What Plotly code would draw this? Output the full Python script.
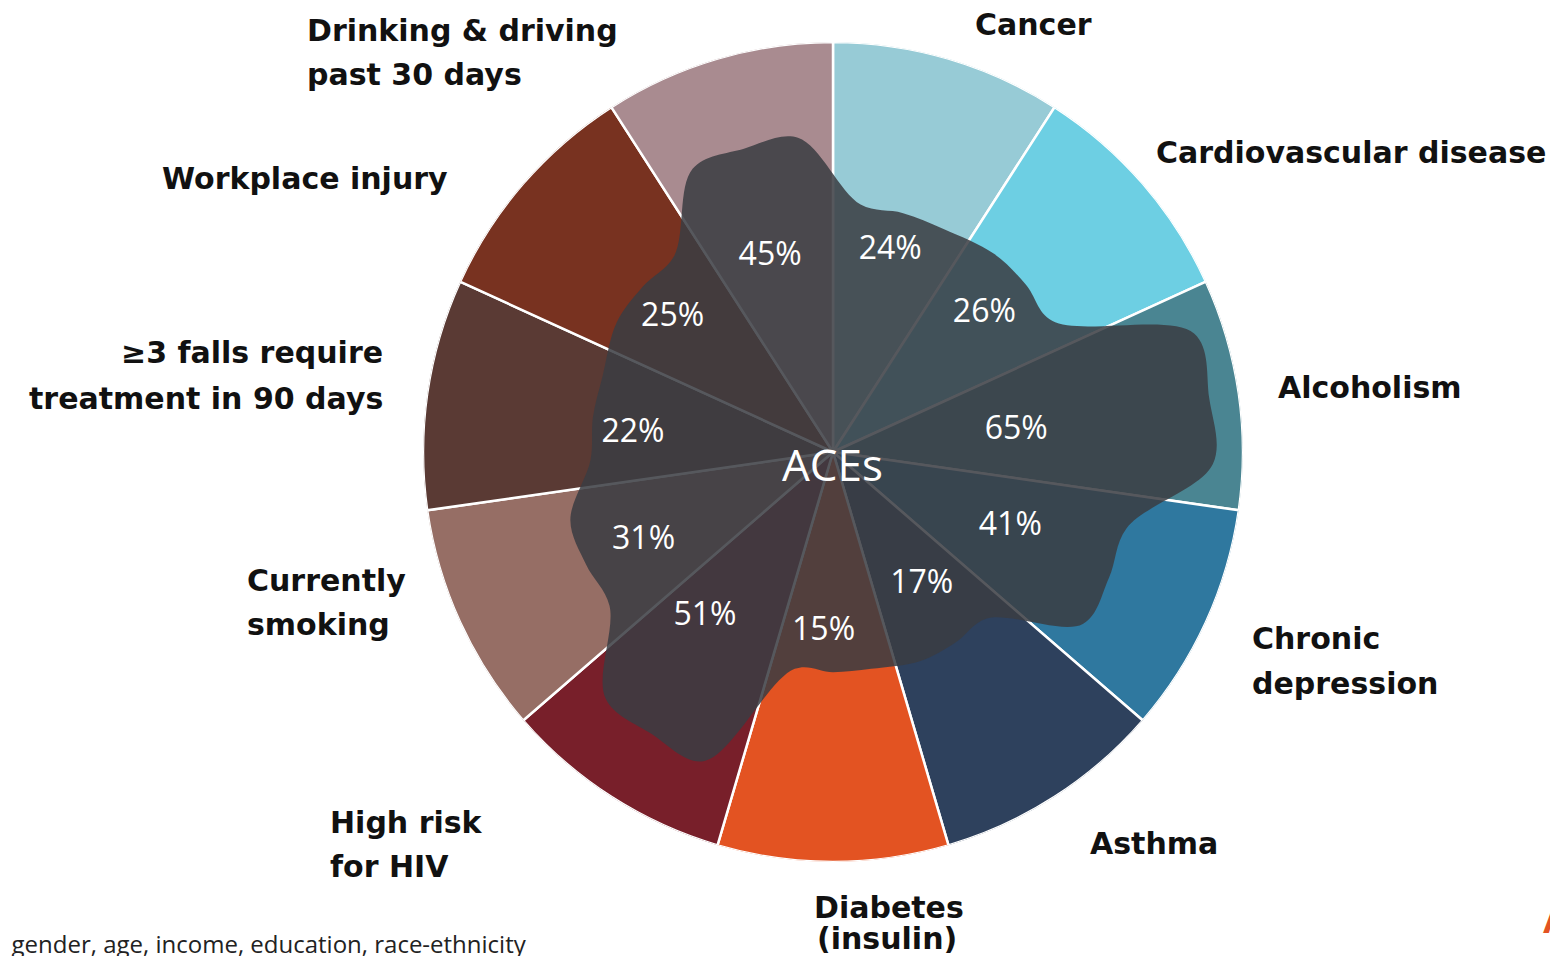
import plotly.graph_objects as go

# ---------------- data ----------------
categories = ["Cancer", "Cardiovascular disease", "Alcoholism", "Chronic depression",
              "Asthma", "Diabetes (insulin)", "High risk for HIV", "Currently smoking",
              "≥3 falls require treatment in 90 days", "Workplace injury",
              "Drinking & driving past 30 days"]
percent_values = [24, 26, 65, 41, 17, 15, 51, 31, 22, 25, 45]
slice_colors = ["#97CBD6", "#6DCFE3", "#4A8592", "#2F789F", "#2E415D", "#E35322",
                "#781F2A", "#966E65", "#5A3A34", "#783220", "#A98B90"]
center_label = "ACEs"
footnote = ": gender, age, income, education, race-ethnicity"

# ---------------- layout helpers ----------------
OFF = 8                               # page body margin
W, H = 1558 - OFF, 956 - OFF          # figure size that fits the window
CX, CY, R = 833 - OFF, 452 - OFF, 410  # pie centre / radius in pixels (figure space)
N = len(categories)
STEP = 360 / N
mids = [STEP * (i + 0.5) for i in range(N)]

BLOB_BASE, BLOB_SCALE = 42, 0.78     # visual mapping value -> blob radius (axis units of 100)
pct_r = [51, 50, 45, 47, 39, 44, 51, 51, 49, 51, 50]
pct_dtheta = [-0.5, -1.5, 1.5, -1.5, -1, 3, 5, -0.5, -3, -1, -1.5]


def px(x, y):
    """screen pixel -> paper coordinates"""
    return (x - OFF) / W, 1 - (y - OFF) / H


fig = go.Figure()

# pie slices as polar bars
fig.add_trace(go.Barpolar(
    r=[100] * N, theta=mids, width=[STEP] * N,
    marker=dict(color=slice_colors, line=dict(color="white", width=2.5)),
    hoverinfo="skip", showlegend=False))

# blob outline: plateau per slice through the library's polar scale
blob_theta, blob_r = [], []
for i, v in enumerate(percent_values):
    rv = BLOB_BASE + BLOB_SCALE * v
    for d in (-10, 0, 10):
        blob_theta.append(mids[i] + d)
        blob_r.append(rv)
blob_theta.append(blob_theta[0] + 360)
blob_r.append(blob_r[0])
fig.add_trace(go.Scatterpolar(
    r=blob_r, theta=blob_theta, mode="lines", fill="toself",
    line=dict(shape="spline", smoothing=1.0, color="rgba(0,0,0,0)", width=0),
    fillcolor="rgba(58,60,66,0.86)", hoverinfo="skip", showlegend=False))

PCT_FONT = "Open Sans"

# percentage labels
fig.add_trace(go.Scatterpolar(
    r=pct_r, theta=[m + d for m, d in zip(mids, pct_dtheta)],
    mode="text", text=[f"{v}%" for v in percent_values],
    textfont=dict(family=PCT_FONT, size=32, color="white"),
    hoverinfo="skip", showlegend=False))

# leader lines (polar, just outside the pie)
leader = [(14.5, 16.6), (44.7, 46.5), (81.1, 80.1), (115.8, 116.2), (147.7, 145.7),
          (181.0, 180.4), (213.8, 216.6), (249.4, 250.3), (280.3, 280.2), (306.6, 304.6),
          (335.4, 335.0)]
for t1, t2 in leader:
    fig.add_trace(go.Scatterpolar(
        r=[102, 109], theta=[t1, t2], mode="lines",
        line=dict(color="#4F7F90", width=1.6), hoverinfo="skip", showlegend=False))

fig.update_layout(
    width=W, height=H, margin=dict(l=0, r=0, t=0, b=0),
    paper_bgcolor="white", plot_bgcolor="white",
    polar=dict(
        domain=dict(x=[(CX - R) / W, (CX + R) / W], y=[1 - (CY + R) / H, 1 - (CY - R) / H]),
        bgcolor="rgba(0,0,0,0)", hole=0, bargap=0,
        radialaxis=dict(range=[0, 100], visible=False, showgrid=False),
        angularaxis=dict(rotation=90, direction="clockwise", showgrid=False,
                         showline=False, showticklabels=False, ticks="")),
)

LBL = dict(family="DejaVu Sans", size=30, color="#111111", weight="bold")
label_lines = [
    ("Cancer", 973, 25, "left"),
    ("Cardiovascular disease", 1154, 152, "left"),
    ("Alcoholism", 1276, 387, "left"),
    ("Chronic", 1250, 638, "left"),
    ("depression", 1250, 683, "left"),
    ("Asthma", 1088, 843, "left"),
    ("Diabetes", 889, 907, "center"),
    ("(insulin)", 887, 938, "center"),
    ("High risk", 328, 822, "left"),
    ("for HIV", 328, 866, "left"),
    ("Currently", 245, 580, "left"),
    ("smoking", 245, 624, "left"),
    ("≥3 falls require", 385, 353, "right"),
    ("treatment in 90 days", 385, 398, "right"),
    ("Workplace injury", 450, 179, "right"),
    ("Drinking & driving", 305, 30, "left"),
    ("past 30 days", 305, 75, "left"),
]
for txt, x, y, xa in label_lines:
    ax, ay = px(x, y)
    fig.add_annotation(text=txt, x=ax, y=ay, xref="paper", yref="paper",
                       xanchor=xa, yanchor="middle", showarrow=False, font=LBL)

# centre label
cx_, cy_ = px(832, 464)
fig.add_annotation(text=center_label, x=cx_, y=cy_, xref="paper", yref="paper",
                   showarrow=False, font=dict(family=PCT_FONT, size=44, color="white"))
# footnote
fx, fy = px(-3, 943)
fig.add_annotation(text=footnote, x=fx, y=fy, xref="paper", yref="paper",
                   xanchor="left", yanchor="middle", showarrow=False,
                   font=dict(family="Open Sans", size=24, color="#222222"))
# cut-off logo letter
lx, ly = px(1541, 922)
fig.add_annotation(text="A", x=lx, y=ly, xref="paper", yref="paper",
                   xanchor="left", yanchor="middle", showarrow=False,
                   font=dict(family="DejaVu Sans", size=30, color="#E35322", weight="bold"))

fig.write_html("out.html")
